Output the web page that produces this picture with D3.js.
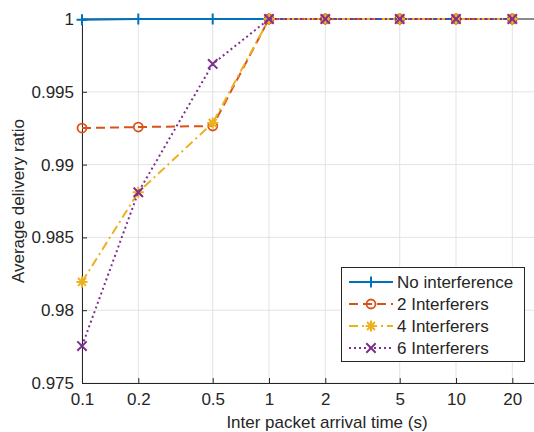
<!DOCTYPE html>
<html><head><meta charset="utf-8">
<script src="https://cdn.jsdelivr.net/npm/d3@7"></script>
<style>body{margin:0;background:#fff}text{font-family:"Liberation Sans",Arial,sans-serif;fill:#262626}</style>
</head><body><svg id="c" width="534" height="432"></svg>
<script>
const xValues = [0.1, 0.2, 0.5, 1, 2, 5, 10, 20];
const xTickLabels = ["0.1", "0.2", "0.5", "1", "2", "5", "10", "20"];
const yTicks = [0.975, 0.98, 0.985, 0.99, 0.995, 1];
const seriesNames = ["No interference", "2 Interferers", "4 Interferers", "6 Interferers"];
const noInterference = [0.99995, 1, 1, 1, 1, 1, 1, 1];
const interferers2 = [0.99251, 0.99258, 0.99265, 1, 1, 1, 1, 1];
const interferers4 = [0.98194, 0.98810, 0.99286, 1, 1, 1, 1, 1];
const interferers6 = [0.97754, 0.98810, 0.99691, 1, 1, 1, 1, 1];

const svg = d3.select("#c");
const L = 82, R = 534, T = 19, B = 383;
const x = d3.scaleLog().domain([0.1, 20]).range([L, 512.3]);
const y = d3.scaleLinear().domain([0.975, 1]).range([B, T]);

// grid
const g = svg.append("g");
g.selectAll(".vg").data(xValues).enter().append("line")
  .attr("x1", d => x(d)).attr("x2", d => x(d)).attr("y1", T).attr("y2", B)
  .attr("stroke", "#e3e3e3").attr("stroke-width", 1);
g.selectAll(".hg").data(yTicks).enter().append("line")
  .attr("x1", L).attr("x2", R).attr("y1", d => y(d)).attr("y2", d => y(d))
  .attr("stroke", "#e3e3e3").attr("stroke-width", 1);

// axes
const xAxis = d3.axisBottom(x).tickValues(xValues).tickFormat((d, i) => xTickLabels[i]).tickSizeInner(-5).tickSizeOuter(0).tickPadding(10);
const ax = svg.append("g").attr("transform", `translate(0,${B})`).call(xAxis);
ax.select(".domain").attr("d", `M${L},0.5H${R}`).attr("stroke", "#262626");
ax.selectAll(".tick line").attr("stroke", "#262626");
ax.selectAll("text").style("font-size", "17px").attr("fill", "#262626");

const yAxis = d3.axisLeft(y).tickValues(yTicks).tickFormat(d => d === 1 ? "1" : d3.format("")(+d.toFixed(3))).tickSizeInner(-5).tickSizeOuter(0).tickPadding(8);
const ay = svg.append("g").attr("transform", `translate(${L},0)`).call(yAxis);
ay.select(".domain").attr("stroke", "#262626");
ay.selectAll(".tick line").attr("stroke", "#262626");
ay.selectAll("text").style("font-size", "17px").attr("fill", "#262626");

// top box line
svg.append("line").attr("x1", L).attr("x2", R).attr("y1", T).attr("y2", T).attr("stroke", "#262626").attr("stroke-width", 1);

svg.append("text").attr("x", 327).attr("y", 428).attr("text-anchor", "middle").style("font-size", "17px").text("Inter packet arrival time (s)");
svg.append("text").attr("transform", `translate(24,${(T + B) / 2}) rotate(-90)`).attr("text-anchor", "middle").style("font-size", "17px").text("Average delivery ratio");

const colors = ["#0072BD", "#D95319", "#EDB120", "#7E2F8E"];
const dashes = [null, "9,5", "9,4,2,4", "2,3"];
const markers = ["plus", "circle", "star", "cross"];
const allSeries = [noInterference, interferers2, interferers4, interferers6];

function drawMarker(sel, type, color, cx, cy) {
  const s = 5.5;
  if (type === "plus") {
    sel.append("path").attr("d", `M${cx - s},${cy}H${cx + s}M${cx},${cy - s}V${cy + s}`).attr("stroke", color).attr("stroke-width", 2).attr("fill", "none");
  } else if (type === "circle") {
    sel.append("circle").attr("cx", cx).attr("cy", cy).attr("r", 4.5).attr("stroke", color).attr("stroke-width", 1.8).attr("fill", "none");
  } else if (type === "star") {
    const d = s * 0.72;
    sel.append("path").attr("d", `M${cx - s},${cy}H${cx + s}M${cx},${cy - s}V${cy + s}M${cx - d},${cy - d}L${cx + d},${cy + d}M${cx - d},${cy + d}L${cx + d},${cy - d}`).attr("stroke", color).attr("stroke-width", 2).attr("fill", "none");
  } else {
    const d = s * 0.85;
    sel.append("path").attr("d", `M${cx - d},${cy - d}L${cx + d},${cy + d}M${cx - d},${cy + d}L${cx + d},${cy - d}`).attr("stroke", color).attr("stroke-width", 2).attr("fill", "none");
  }
}

const line = d3.line().x((d, i) => x(xValues[i])).y(d => y(d));
allSeries.forEach((vals, k) => {
  const sg = svg.append("g");
  sg.append("path").attr("d", line(vals)).attr("fill", "none").attr("stroke", colors[k]).attr("stroke-width", 2).attr("stroke-dasharray", dashes[k]);
  vals.forEach((v, i) => drawMarker(sg, markers[k], colors[k], x(xValues[i]), y(v)));
});

// legend
const lg = svg.append("g");
lg.append("rect").attr("x", 341.5).attr("y", 267.5).attr("width", 183).attr("height", 94).attr("fill", "#fff").attr("stroke", "#262626").attr("stroke-width", 1);
seriesNames.forEach((name, k) => {
  const ly = 282 + k * 22;
  lg.append("line").attr("x1", 349).attr("x2", 393).attr("y1", ly).attr("y2", ly).attr("stroke", colors[k]).attr("stroke-width", 2).attr("stroke-dasharray", dashes[k]);
  drawMarker(lg, markers[k], colors[k], 371, ly);
  lg.append("text").attr("x", 397).attr("y", ly + 6).style("font-size", "17px").text(name);
});
</script></body></html>
